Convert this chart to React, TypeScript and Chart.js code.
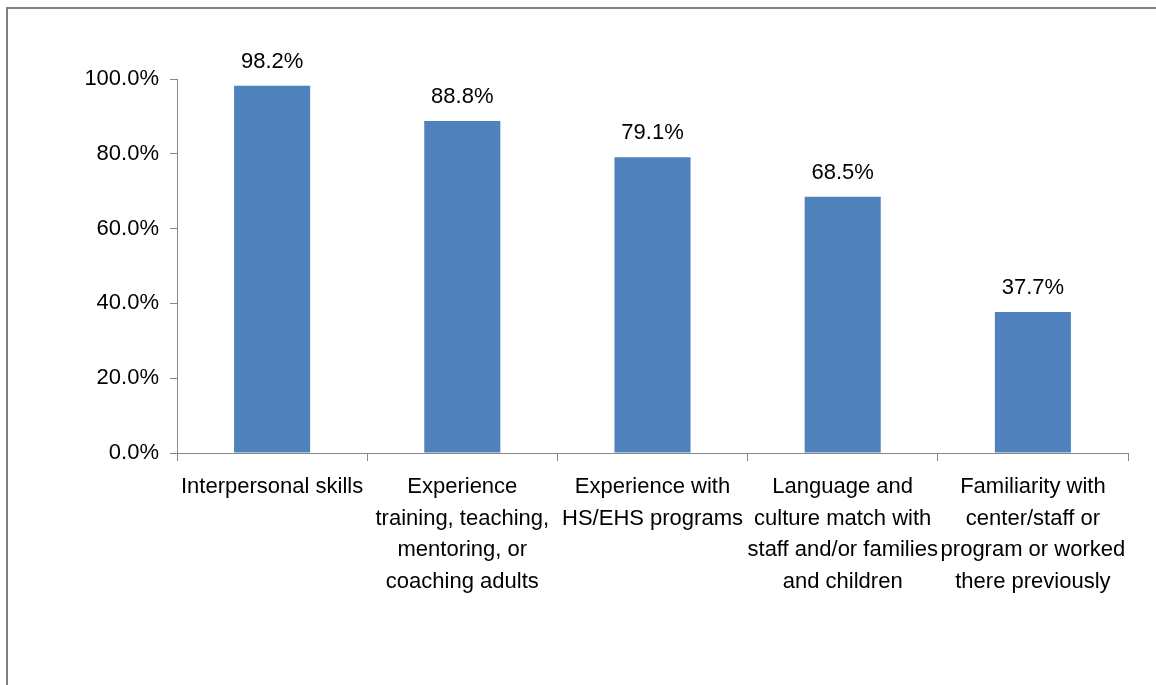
import React, { useEffect, useRef } from "react";
import { Chart, registerables } from "chart.js";

Chart.register(...registerables);

const categories: string[][] = [
  ["Interpersonal skills"],
  ["Experience", "training, teaching,", "mentoring, or", "coaching adults"],
  ["Experience with", "HS/EHS programs"],
  ["Language and", "culture match with", "staff and/or families", "and children"],
  ["Familiarity with", "center/staff or", "program or worked", "there previously"],
];
const values: number[] = [98.2, 88.8, 79.1, 68.5, 37.7];
const yTicks: number[] = [0, 20, 40, 60, 80, 100];

const FONT = "'Liberation Sans', Arial, sans-serif";

const framePlugin = {
  id: "frame",
  beforeDraw(chart: any) {
    const ctx = chart.ctx;
    ctx.save();
    ctx.fillStyle = "#ffffff";
    ctx.fillRect(0, 0, chart.width, chart.height);
    ctx.strokeStyle = "#808080";
    ctx.lineWidth = 2;
    ctx.beginPath();
    ctx.moveTo(7, chart.height + 10);
    ctx.lineTo(7, 8);
    ctx.lineTo(chart.width + 10, 8);
    ctx.stroke();
    ctx.restore();
  },
};

const labelPlugin = {
  id: "valueLabels",
  afterDatasetsDraw(chart: any) {
    const ctx = chart.ctx;
    const meta = chart.getDatasetMeta(0);
    ctx.save();
    ctx.font = `22px ${FONT}`;
    ctx.fillStyle = "#000000";
    ctx.textAlign = "center";
    ctx.textBaseline = "alphabetic";
    meta.data.forEach((bar: any, i: number) => {
      ctx.fillText(values[i].toFixed(1) + "%", bar.x, bar.y - 18);
    });
    ctx.restore();
  },
};

export default function App() {
  const ref = useRef<HTMLCanvasElement | null>(null);
  useEffect(() => {
    if (!ref.current) return;
    const chart = new Chart(ref.current, {
      type: "bar",
      data: {
        labels: categories,
        datasets: [
          {
            data: values,
            backgroundColor: "#4F81BD",
            borderWidth: 0,
            barPercentage: 0.4,
            categoryPercentage: 1,
          },
        ],
      },
      options: {
        animation: false,
        responsive: false,
        devicePixelRatio: 1,
        layout: { padding: { left: 0, right: 28, top: 79, bottom: 0 } },
        plugins: { legend: { display: false }, tooltip: { enabled: false } },
        scales: {
          x: {
            offset: true,
            grid: {
              offset: true,
              drawOnChartArea: false,
              drawTicks: true,
              tickLength: 8,
              color: "#878787",
            },
            border: { color: "#878787", width: 1 },
            ticks: {
              color: "#000000",
              font: { family: FONT, size: 22, lineHeight: 1.44 },
              padding: 10,
              maxRotation: 0,
              autoSkip: false,
            },
            afterFit(scale: any) {
              scale.height = 232;
            },
          },
          y: {
            min: 0,
            max: 100,
            afterBuildTicks(scale: any) {
              scale.ticks = yTicks.map((v) => ({ value: v }));
            },
            grid: {
              drawOnChartArea: false,
              drawTicks: true,
              tickLength: 7,
              color: "#878787",
            },
            border: { color: "#878787", width: 1 },
            ticks: {
              color: "#000000",
              font: { family: FONT, size: 22 },
              padding: 11,
              callback: (v: any) => Number(v).toFixed(1) + "%",
            },
            afterFit(scale: any) {
              scale.width = 177;
            },
          },
        },
      },
      plugins: [framePlugin, labelPlugin],
    } as any);
    return () => chart.destroy();
  }, []);
  return (
    <div style={{ position: "absolute", left: 0, top: 0, width: 1156, height: 685 }}>
      <canvas ref={ref} width={1156} height={685} style={{ display: "block" }} />
    </div>
  );
}
